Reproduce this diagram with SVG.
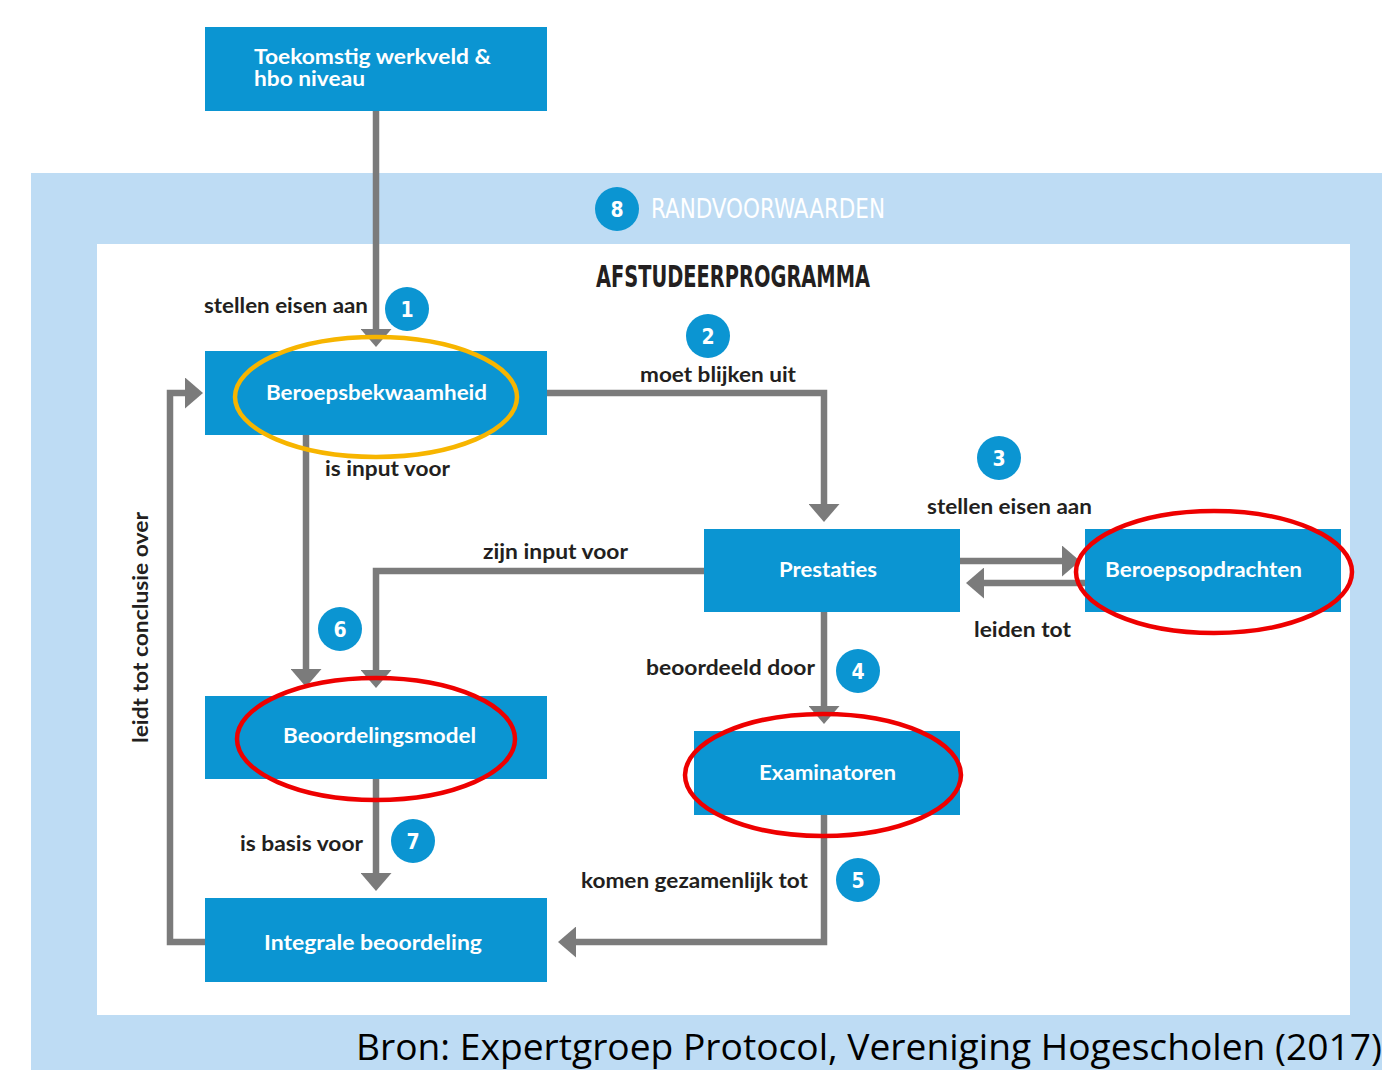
<svg xmlns="http://www.w3.org/2000/svg" width="1382" height="1070" viewBox="0 0 1382 1070">
<style>
.box{fill:#0b95d2}
.bt{font-family:Lato,"Noto Sans",sans-serif;font-weight:700;font-size:20px;fill:#ffffff}
.lb{font-family:Lato,"Noto Sans",sans-serif;font-weight:700;font-size:20px;fill:#231f20}
.con{fill:none;stroke:#7b7b7b;stroke-width:6.5}
.num{fill:#0b95d2}
.nt{font-family:"DejaVu Sans Condensed","DejaVu Sans",sans-serif;font-weight:700;font-size:21px;fill:#ffffff;text-anchor:middle}
.ell{fill:none;stroke-width:4.5}
</style>
<defs>
<marker id="ah" viewBox="0 0 18 31" refX="5" refY="15.5" markerWidth="18" markerHeight="31" markerUnits="userSpaceOnUse" orient="auto">
<path d="M0,0 L18,15.5 L0,31 Z" fill="#7b7b7b"/>
</marker>
</defs>
<rect width="1382" height="1070" fill="#ffffff"/>
<rect x="31" y="173" width="1351" height="897" fill="#bedcf4"/>
<rect x="97" y="244" width="1253" height="771" fill="#ffffff"/>

<g id="header">
<circle class="num" cx="617" cy="209" r="22"/>
<text class="nt" x="617" y="217">8</text>
<text x="651" y="218" font-family="'DejaVu Sans Condensed','DejaVu Sans',sans-serif" font-size="27" fill="#ffffff" textLength="234" lengthAdjust="spacingAndGlyphs">RANDVOORWAARDEN</text>
<text x="596" y="287" font-family="'DejaVu Sans Condensed','DejaVu Sans',sans-serif" font-weight="700" font-size="30" fill="#231f20" textLength="274" lengthAdjust="spacingAndGlyphs">AFSTUDEERPROGRAMMA</text>
</g>

<g id="connectors">
<path class="con" d="M376,111 V334" marker-end="url(#ah)"/>
<path class="con" d="M547,393 H824 V509" marker-end="url(#ah)"/>
<path class="con" d="M306,435 V674" marker-end="url(#ah)"/>
<path class="con" d="M704,571 H376 V675" marker-end="url(#ah)"/>
<path class="con" d="M960,561 H1067" marker-end="url(#ah)"/>
<path class="con" d="M1085,583 H979" marker-end="url(#ah)"/>
<path class="con" d="M824,612 V711" marker-end="url(#ah)"/>
<path class="con" d="M824,815 V942 H571" marker-end="url(#ah)"/>
<path class="con" d="M376,779 V878" marker-end="url(#ah)"/>
<path class="con" d="M205,942 H170 V393 H190" marker-end="url(#ah)"/>
</g>

<g id="labels">
<text class="lb" x="204" y="313" textLength="164" lengthAdjust="spacingAndGlyphs">stellen eisen aan</text>
<text class="lb" x="640" y="382" textLength="156" lengthAdjust="spacingAndGlyphs">moet blijken uit</text>
<text class="lb" x="325" y="476" textLength="125" lengthAdjust="spacingAndGlyphs">is input voor</text>
<text class="lb" x="927" y="514" textLength="165" lengthAdjust="spacingAndGlyphs">stellen eisen aan</text>
<text class="lb" x="483" y="559" textLength="145" lengthAdjust="spacingAndGlyphs">zijn input voor</text>
<text class="lb" x="974" y="637" textLength="97" lengthAdjust="spacingAndGlyphs">leiden tot</text>
<text class="lb" x="646" y="675" textLength="169" lengthAdjust="spacingAndGlyphs">beoordeeld door</text>
<text class="lb" x="240" y="851" textLength="123" lengthAdjust="spacingAndGlyphs">is basis voor</text>
<text class="lb" x="581" y="888" textLength="227" lengthAdjust="spacingAndGlyphs">komen gezamenlijk tot</text>
<text class="lb" transform="translate(148,743) rotate(-90)" x="0" y="0" textLength="231" lengthAdjust="spacingAndGlyphs">leidt tot conclusie over</text>
</g>

<g id="numbers">
<g id="n1"><circle class="num" cx="407" cy="309" r="22"/><text class="nt" x="407" y="317">1</text></g>
<g id="n2"><circle class="num" cx="708" cy="336" r="22"/><text class="nt" x="708" y="344">2</text></g>
<g id="n3"><circle class="num" cx="999" cy="458" r="22"/><text class="nt" x="999" y="466">3</text></g>
<g id="n4"><circle class="num" cx="858" cy="671" r="22"/><text class="nt" x="858" y="679">4</text></g>
<g id="n5"><circle class="num" cx="858" cy="880" r="22"/><text class="nt" x="858" y="888">5</text></g>
<g id="n6"><circle class="num" cx="340" cy="629" r="22"/><text class="nt" x="340" y="637">6</text></g>
<g id="n7"><circle class="num" cx="413" cy="841" r="22"/><text class="nt" x="413" y="849">7</text></g>
</g>

<g id="toekomstig">
<rect class="box" x="205" y="27" width="342" height="84"/>
<text class="bt" x="254" y="64" textLength="237" lengthAdjust="spacingAndGlyphs">Toekomstig werkveld &amp;</text>
<text class="bt" x="254" y="86" textLength="111" lengthAdjust="spacingAndGlyphs">hbo niveau</text>
</g>
<g id="beroepsbekwaamheid">
<rect class="box" x="205" y="351" width="342" height="84"/>
<text class="bt" x="266" y="400" textLength="221" lengthAdjust="spacingAndGlyphs">Beroepsbekwaamheid</text>
</g>
<g id="prestaties">
<rect class="box" x="704" y="529" width="256" height="83"/>
<text class="bt" x="779" y="577" textLength="98" lengthAdjust="spacingAndGlyphs">Prestaties</text>
</g>
<g id="beroepsopdrachten">
<rect class="box" x="1085" y="529" width="256" height="83"/>
<text class="bt" x="1105" y="577" textLength="197" lengthAdjust="spacingAndGlyphs">Beroepsopdrachten</text>
</g>
<g id="beoordelingsmodel">
<rect class="box" x="205" y="696" width="342" height="83"/>
<text class="bt" x="283" y="743" textLength="193" lengthAdjust="spacingAndGlyphs">Beoordelingsmodel</text>
</g>
<g id="examinatoren">
<rect class="box" x="694" y="731" width="266" height="84"/>
<text class="bt" x="759" y="780" textLength="137" lengthAdjust="spacingAndGlyphs">Examinatoren</text>
</g>
<g id="integrale">
<rect class="box" x="205" y="898" width="342" height="84"/>
<text class="bt" x="264" y="950" textLength="218" lengthAdjust="spacingAndGlyphs">Integrale beoordeling</text>
</g>

<g id="highlights">
<ellipse class="ell" cx="376" cy="397" rx="141" ry="60" stroke="#f7b500"/>
<ellipse class="ell" cx="1214" cy="572" rx="138" ry="61" stroke="#ee0000"/>
<ellipse class="ell" cx="376" cy="739" rx="139" ry="61" stroke="#ee0000"/>
<ellipse class="ell" cx="823" cy="775" rx="138" ry="61" stroke="#ee0000"/>
</g>

<text x="356" y="1060" font-family="'Open Sans','Noto Sans',sans-serif" font-size="36" fill="#000000" textLength="1026" lengthAdjust="spacingAndGlyphs">Bron: Expertgroep Protocol, Vereniging Hogescholen (2017)</text>
</svg>
